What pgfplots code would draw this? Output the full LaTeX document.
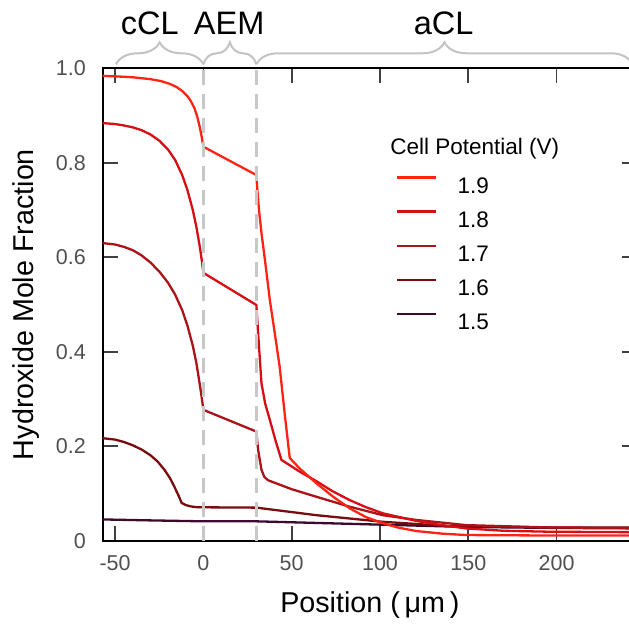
\documentclass[border=0pt]{standalone}
\usepackage{fontspec}
\setmainfont{Liberation Sans}
\usepackage{pgfplots}
\pgfplotsset{compat=1.18}
\usetikzlibrary{decorations.pathreplacing}

\definecolor{vA}{RGB}{255,35,20}
\definecolor{vB}{RGB}{215,15,20}
\definecolor{vC}{RGB}{170,20,25}
\definecolor{vD}{RGB}{120,12,15}
\definecolor{vE}{RGB}{60,10,45}
\definecolor{dashgray}{RGB}{200,200,200}
\definecolor{bracegray}{RGB}{195,195,195}
\definecolor{ticklab}{RGB}{80,80,80}

\begin{document}
\begin{tikzpicture}
\begin{axis}[
  scale only axis,
  width=534.3bp, height=472.4bp,
  xmin=-57, xmax=245.5, ymin=0, ymax=1,
  clip=false,
  axis line style={line width=2bp, black},
  tick align=inside,
  major tick length=15bp,
  tick style={line width=1.7bp, black!75},
  xtick={-50,0,50,100,150,200},
  xticklabels={-50,0,50,100,150,200},
  ytick={0,0.2,0.4,0.6,0.8,1.0},
  yticklabels={0,0.2,0.4,0.6,0.8,1.0},
  tick label style={font=\fontsize{21.5bp}{24bp}\selectfont, text=ticklab, inner sep=0pt},
  xticklabel style={anchor=north, yshift=-14.3bp},
  yticklabel style={anchor=east, xshift=-16.7bp},
  every axis x label/.style={at={(axis description cs:0.5,-0.153)}, anchor=base},
  every axis y label/.style={at={(axis description cs:-0.1299,0.5)}, rotate=90, anchor=base},
  label style={font=\fontsize{28.7bp}{32bp}\selectfont},
  xlabel={Position (\,μm\,)},
  ylabel={Hydroxide Mole Fraction},
  legend style={at={(0.549,0.772)}, anchor=north west, draw=none, fill=none,
    inner sep=0pt, row sep=17bp,
    nodes={inner sep=0pt, text height=16bp, text depth=0pt, font=\fontsize{22.5bp}{26bp}\selectfont}},
  legend cell align=left,
  legend image code/.code={\draw[#1] (0bp,8bp) -- (39bp,8bp); \path (59bp,8bp);},
  reverse legend,
  every axis plot/.append style={line width=2.3bp, line join=round},
]

\addplot[color=vE] coordinates {
  (-57,0.045) (-30,0.043) (0,0.041) (30,0.041) (60,0.038) (100,0.034)
  (150,0.029) (200,0.027) (245.5,0.026)
};
\addlegendentry{1.5}

\addplot[color=vD] coordinates {
  (-57,0.217) (-50,0.214) (-45,0.209) (-40,0.202) (-35,0.193) (-30,0.181)
  (-26,0.168) (-22,0.150) (-19,0.133) (-16.5,0.115) (-14,0.095) (-12.3,0.080)
  (-10,0.0755) (-7,0.0725) (-4,0.071) (0,0.0707) (30,0.0700) (64,0.054)
  (101.6,0.040) (139,0.031) (195.8,0.028) (245.5,0.028)
};
\addlegendentry{1.6}

\addplot[color=vC] coordinates {
  (-57,0.630) (-50,0.627) (-45,0.622) (-40,0.615) (-35,0.604) (-30,0.589)
  (-25,0.570) (-20,0.546) (-16,0.521) (-12,0.488) (-9,0.455) (-6,0.413)
  (-4,0.377) (-2,0.330) (-1,0.305) (0,0.277) (30,0.231) (31,0.192) (32.9,0.150)
  (34.5,0.135) (36.6,0.128) (50,0.109) (64,0.093) (82.8,0.072) (101.6,0.054)
  (120.4,0.044) (148.7,0.033) (195.8,0.028) (245.5,0.027)
};
\addlegendentry{1.7}

\addplot[color=vB] coordinates {
  (-57,0.884) (-50,0.882) (-45,0.879) (-40,0.875) (-35,0.869) (-30,0.860)
  (-25,0.847) (-20,0.828) (-16,0.806) (-12,0.774) (-9,0.742) (-6,0.700)
  (-4,0.665) (-2,0.622) (-1,0.596) (0,0.567) (30,0.499) (31,0.439) (32.9,0.333)
  (35,0.290) (37.6,0.256) (41,0.210) (44.2,0.171) (54.6,0.146) (64,0.126)
  (73,0.105) (82.8,0.086) (92,0.071) (101.6,0.058) (120.4,0.042) (135,0.033)
  (148.7,0.026) (170,0.021) (195.8,0.019) (245.5,0.018)
};
\addlegendentry{1.8}

\addplot[color=vA] coordinates {
  (-57,0.984) (-50,0.983) (-40,0.981) (-30,0.977) (-24,0.973) (-19,0.967)
  (-15,0.960) (-12,0.952) (-9,0.941) (-7,0.930) (-5,0.915) (-3.5,0.898)
  (-2.2,0.878) (-1,0.856) (0,0.834) (30,0.774) (30.5,0.745)
  (31.5,0.700) (32.9,0.651) (35,0.590) (37.6,0.510) (40,0.450) (43.2,0.368)
  (46,0.270) (48.9,0.175) (54.5,0.153) (64,0.1215) (73.5,0.093) (82.8,0.0686)
  (92,0.050) (101.6,0.037) (110,0.028) (120.4,0.0205) (135,0.015) (148.7,0.012)
  (170,0.0115) (195.8,0.011) (245.5,0.011)
};
\addlegendentry{1.9}

\addplot[forget plot, color=dashgray, line width=2.5bp, dash pattern=on 15bp off 9bp]
  coordinates {(0,0) (0,1)};
\addplot[forget plot, color=dashgray, line width=2.5bp, dash pattern=on 15bp off 9bp]
  coordinates {(30,0) (30,1)};

% region braces
\draw[bracegray, line width=2bp, decorate, decoration={brace, amplitude=22bp}]
  ([yshift=4bp]axis cs:-49.5,1) -- ([yshift=4bp]axis cs:0,1);
\draw[bracegray, line width=2bp, decorate, decoration={brace, amplitude=22bp}]
  ([yshift=4bp]axis cs:0,1) -- ([yshift=4bp]axis cs:30,1);
\draw[bracegray, line width=2bp, decorate, decoration={brace, amplitude=22bp}]
  ([yshift=4bp]axis cs:30,1) -- ([yshift=4bp]axis cs:243,1);

\node[anchor=base, font=\fontsize{32.5bp}{36bp}\selectfont] at ([yshift=33.3bp]axis cs:-30.3,1) {cCL};
\node[anchor=base, font=\fontsize{32.5bp}{36bp}\selectfont] at ([yshift=33.3bp]axis cs:14.6,1) {AEM};
\node[anchor=base, font=\fontsize{32.5bp}{36bp}\selectfont] at ([yshift=33.3bp]axis cs:136,1) {aCL};

\node[anchor=base west, inner sep=0pt, font=\fontsize{22.5bp}{26bp}\selectfont]
  at (rel axis cs:0.538,0.8165) {Cell Potential (V)};
\end{axis}
\pgfresetboundingbox
\path (-102.7bp,-86.3bp) rectangle (526.3bp,540.7bp);
\end{tikzpicture}
\end{document}
